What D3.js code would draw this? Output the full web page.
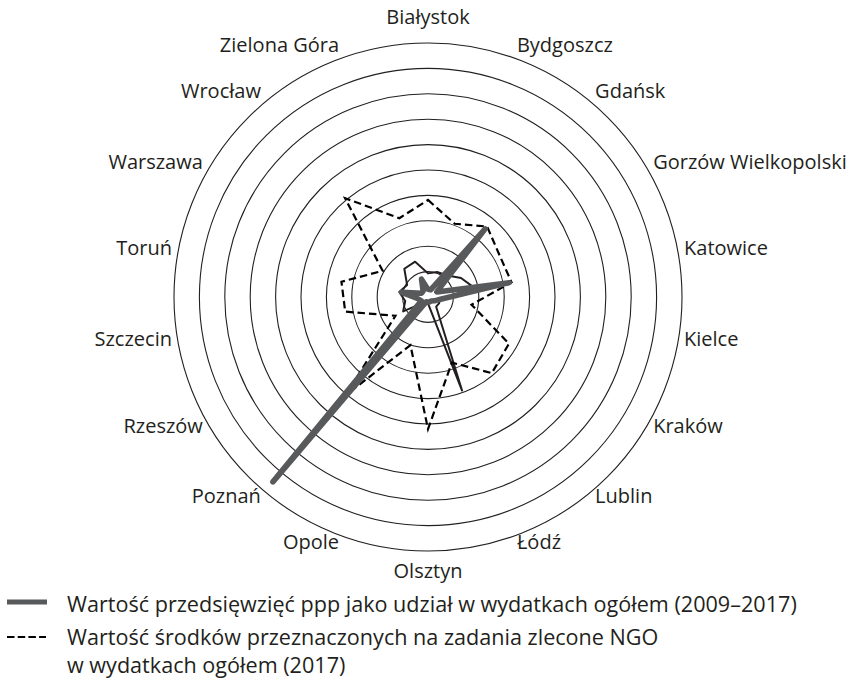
<!DOCTYPE html>
<html>
<head>
<meta charset="utf-8">
<script src="https://cdn.jsdelivr.net/npm/d3@7"></script>
<style>
  html, body { margin: 0; padding: 0; background: #fff; }
  svg { display: block; }
  text { font-family: "Open Sans", "Noto Sans", sans-serif; fill: #231f20; }
</style>
</head>
<body>
<div id="chart"></div>
<script>
// ---- data ----
const categories = ["Białystok", "Bydgoszcz", "Gdańsk", "Gorzów Wielkopolski", "Katowice", "Kielce",
  "Kraków", "Lublin", "Łódź", "Olsztyn", "Opole", "Poznań", "Rzeszów", "Szczecin", "Toruń",
  "Warszawa", "Wrocław", "Zielona Góra"];
const pppShare = [0.3, 0.3, 3.5, 0.4, 3.25, 0.5, 0.3, 0.2, 0.2, 0.2, 0.2, 9.5, 0.3, 0.4, 1.05, 0.3, 0.3, 0.75];
const ngoShare = [3.82, 3.07, 3.62, 3.26, 3.34, 1.74, 3.68, 3.91, 2.75, 5.2, 2.02, 5.05, 1.48, 3.31, 3.46, 2.06, 5.08, 3.3];
const thirdSeries = [0.93, 1.05, 1.12, 1.5, 1.9, 0.5, 0.5, 0.5, 3.92, 0.25, 0.3, 0.3, 1.13, 0.91, 1.15, 0.95, 1.45, 1.48];
const gridTicks = [1, 2, 3, 4, 5, 6, 7, 8, 9, 10];
const legendLabels = [
  "Wartość przedsięwzięć ppp jako udział w wydatkach ogółem (2009–2017)",
  "Wartość środków przeznaczonych na zadania zlecone NGO",
  "w wydatkach ogółem (2017)"
];

// ---- layout ----
const W = 861, H = 680;
const cx = 428, cy = 297, outerR = 254;
const svg = d3.select("#chart").append("svg").attr("width", W).attr("height", H);
const g = svg.append("g").attr("transform", `translate(${cx},${cy})`);

const r = d3.scaleLinear().domain([0, 10]).range([0, outerR]);
const angle = d3.scalePoint().domain(categories).range([0, 2 * Math.PI * (categories.length - 1) / categories.length]);

// grid circles
g.selectAll("circle.grid").data(gridTicks).join("circle")
  .attr("class", "grid")
  .attr("r", d => r(d))
  .attr("fill", "none")
  .attr("stroke", "#231f20")
  .attr("stroke-width", 1.1);

const radial = d3.lineRadial()
  .angle((d, i) => angle(categories[i]))
  .radius(d => r(d))
  .curve(d3.curveLinearClosed);

// thin black series
g.append("path").datum(thirdSeries)
  .attr("d", radial)
  .attr("fill", "none")
  .attr("stroke", "#231f20")
  .attr("stroke-width", 2)
  .attr("stroke-linejoin", "round");

// dashed series
g.append("path").datum(ngoShare)
  .attr("d", radial)
  .attr("fill", "none")
  .attr("stroke", "#000")
  .attr("stroke-width", 2.2)
  .attr("stroke-dasharray", "7.5,4");

// thick gray series
g.append("path").datum(pppShare)
  .attr("d", radial)
  .attr("fill", "none")
  .attr("stroke", "#58595b")
  .attr("stroke-width", 5.5)
  .attr("stroke-linejoin", "round")
  .attr("stroke-linecap", "round");

// category labels
const labelRx = 260, labelRy = 264;
g.selectAll("text.cat").data(categories).join("text")
  .attr("class", "cat")
  .attr("x", d => labelRx * Math.sin(angle(d)))
  .attr("y", d => {
    const c = Math.cos(angle(d)), s = Math.sin(angle(d));
    const extra = Math.abs(s) < 0.01 ? 13 * Math.sign(c) : 0;
    return -labelRy * c - 4 - extra;
  })
  .attr("text-anchor", d => {
    const s = Math.sin(angle(d));
    return Math.abs(s) < 0.01 ? "middle" : (s > 0 ? "start" : "end");
  })
  .attr("dominant-baseline", "central")
  .style("font-size", "20px")
  .text(d => d);

// legend
const lg = svg.append("g");
lg.append("line").attr("x1", 7).attr("x2", 47).attr("y1", 602).attr("y2", 602)
  .attr("stroke", "#58595b").attr("stroke-width", 5);
lg.append("line").attr("x1", 7).attr("x2", 46).attr("y1", 637).attr("y2", 637)
  .attr("stroke", "#000").attr("stroke-width", 2.2).attr("stroke-dasharray", "7.5,3.2");
const legendY = [612, 645, 673];
const texts = lg.selectAll("text").data(legendLabels).join("text")
  .attr("x", 0)
  .attr("y", 0)
  .style("font-size", "21px")
  .text(d => d);
// condense the legend text uniformly so the first line spans the same width as in the original
const natural = texts.nodes()[0].getComputedTextLength();
const k = 730 / natural;
texts.attr("transform", (d, i) => `translate(67,${legendY[i]}) scale(${k},1)`);
</script>
</body>
</html>
